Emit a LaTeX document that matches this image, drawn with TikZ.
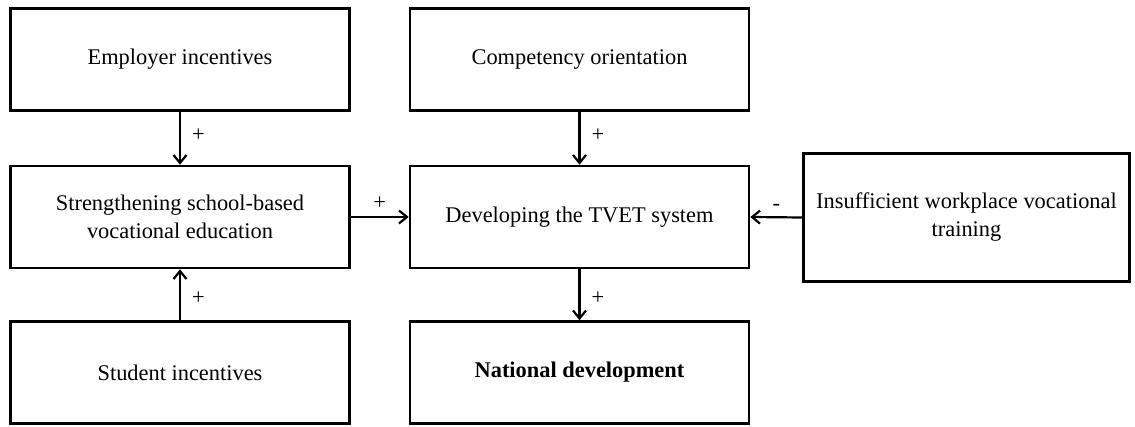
\documentclass[tikz,border=0pt]{standalone}
\usepackage{fontspec}
\setmainfont{Liberation Serif}
\usetikzlibrary{arrows.meta}

\begin{document}
\begin{tikzpicture}[x=1pt, y=1pt,
    box/.style={draw, line width=2.6pt, align=center, inner sep=4pt,
        minimum width=339pt, minimum height=102pt,
        font=\fontsize{22.4}{28}\selectfont},
    arr/.style={line width=2.2pt, -{Straight Barb[length=8pt, width=13pt, line width=2.2pt]}},
    sign/.style={font=\fontsize{22.4}{28}\selectfont, inner sep=2pt}]

    % =================================================================
    % 1. KHUNG HÌNH
    % =================================================================
    \useasboundingbox (0, 0) rectangle (1135, 426);

    % =================================================================
    % 2. CÁC HỘP
    % =================================================================
    \node[box] (emp)  at (180, 366.5) {Employer incentives};
    \node[box] (comp) at (579.5, 366.5) {Competency orientation};
    \node[box] (strg) at (180, 209) {Strengthening school-based\\vocational education};
    \node[box] (dev)  at (579.5, 209) {Developing the TVET system};
    \node[box, minimum width=326pt, minimum height=128pt] (insuf) at (966.5, 208.5)
        {Insufficient workplace vocational\\training};
    \node[box] (stud) at (180, 53.5) {Student incentives};
    \node[box, font=\fontsize{22.4}{28}\selectfont\bfseries] (nat) at (579.5, 53.5) {National development};

    % =================================================================
    % 3. CÁC MŨI TÊN VÀ DẤU
    % =================================================================
    \draw[arr] (emp.south) -- (strg.north) node[sign, midway, right, xshift=9pt, yshift=3pt] {+};
    \draw[arr] (comp.south) -- (dev.north) node[sign, midway, right, xshift=9pt, yshift=3pt] {+};
    \draw[arr] (stud.north) -- (strg.south) node[sign, midway, right, xshift=9pt, yshift=-3pt] {+};
    \draw[arr] (dev.south) -- (nat.north) node[sign, midway, right, xshift=9pt, yshift=-3pt] {+};
    \draw[arr] (strg.east) -- (dev.west) node[sign, midway, above, yshift=4pt] {+};
    \draw[arr] (insuf.west) -- (dev.east) node[sign, midway, above, yshift=4pt] {-};

\end{tikzpicture}
\end{document}
